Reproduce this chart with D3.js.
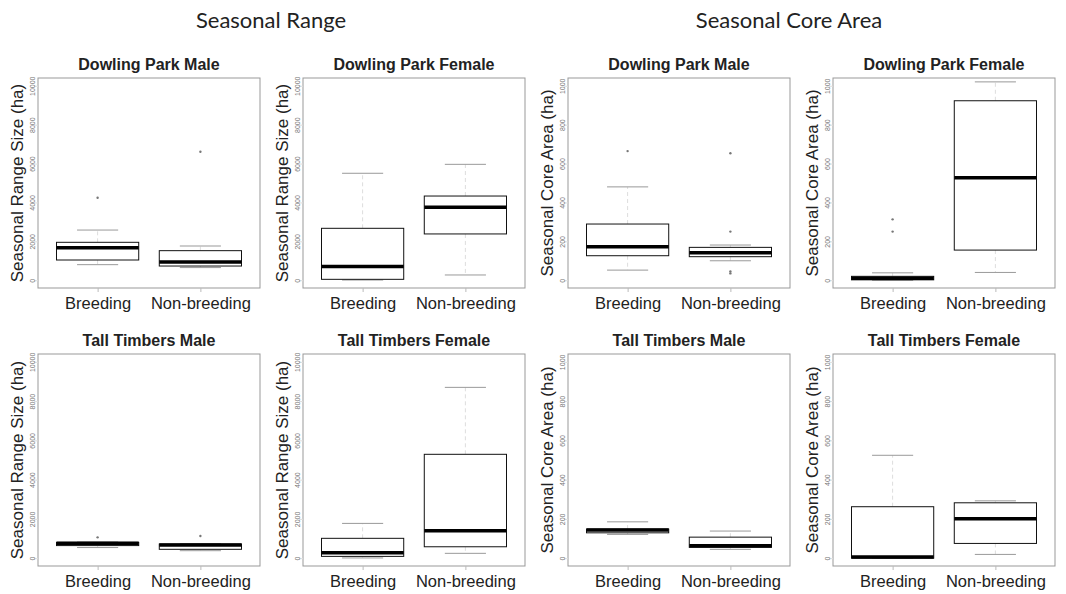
<!DOCTYPE html>
<html>
<head>
<meta charset="utf-8">
<script src="https://cdn.jsdelivr.net/npm/d3@7"></script>
<style>
  html, body { margin: 0; padding: 0; background: #fff; }
  svg { display: block; }
</style>
</head>
<body>
<svg id="chart" width="1066" height="594"></svg>
<script>
// ---------------- DATA ----------------
const sectionTitles = ["Seasonal Range", "Seasonal Core Area"];
const yLabels = ["Seasonal Range Size (ha)", "Seasonal Core Area (ha)"];
const groups = ["Breeding", "Non-breeding"];
const rangeTicks = [0, 2000, 4000, 6000, 8000, 10000];
const coreTicks = [0, 200, 400, 600, 800, 1000];
const panelTitles = [
  "Dowling Park Male", "Dowling Park Female", "Dowling Park Male", "Dowling Park Female",
  "Tall Timbers Male", "Tall Timbers Female", "Tall Timbers Male", "Tall Timbers Female"
];
// box stats per group: [lower whisker, Q1, median, Q3, upper whisker]
const dpMaleRange     = [[800, 1040, 1670, 1950, 2580], [650, 730, 940, 1520, 1760]];
const dpFemaleRange   = [[10, 46, 700, 2670, 5500], [270, 2380, 3750, 4330, 5960]];
const dpMaleCore      = [[52, 126, 172, 289, 480], [100, 121, 141, 169, 181]];
const dpFemaleCore    = [[0, 2, 10, 20, 38], [40, 155, 527, 923, 1020]];
const ttMaleRange     = [[540, 640, 760, 800, 820], [380, 450, 670, 720, 740]];
const ttFemaleRange   = [[10, 90, 280, 1010, 1770], [245, 580, 1400, 5290, 8700]];
const ttMaleCore      = [[121, 129, 143, 148, 185], [45, 55, 63, 107, 138]];
const ttFemaleCore    = [[0, 0, 6, 262, 524], [19, 75, 201, 282, 292]];
// outliers per group
const dpMaleRangeOut   = [[4240], [6610]];
const dpFemaleRangeOut = [[], []];
const dpMaleCoreOut    = [[664], [653, 250, 45, 35]];
const dpFemaleCoreOut  = [[313, 250], []];
const ttMaleRangeOut   = [[1060], [1125]];
const ttFemaleRangeOut = [[], []];
const ttMaleCoreOut    = [[], []];
const ttFemaleCoreOut  = [[], []];

const panelStats = [dpMaleRange, dpFemaleRange, dpMaleCore, dpFemaleCore,
                    ttMaleRange, ttFemaleRange, ttMaleCore, ttFemaleCore];
const panelOut = [dpMaleRangeOut, dpFemaleRangeOut, dpMaleCoreOut, dpFemaleCoreOut,
                  ttMaleRangeOut, ttFemaleRangeOut, ttMaleCoreOut, ttFemaleCoreOut];

// ---------------- LAYOUT ----------------
const svg = d3.select("#chart");
const colOffsets = [0, 265, 530, 795];
const rowTops = [78, 354];
const rowBottoms = [288, 566];
const plotLeft = 38, plotRight = 260;

svg.selectAll("text.section")
  .data(sectionTitles)
  .join("text")
  .attr("class", "section")
  .attr("x", (d, i) => [271, 789][i])
  .attr("y", 28)
  .attr("text-anchor", "middle")
  .attr("font-family", "Lato, 'Open Sans', sans-serif")
  .attr("font-size", 22)
  .attr("fill", "#222")
  .text(d => d);

const font = "'Liberation Sans', Arial, sans-serif";

panelStats.forEach((stats, p) => {
  const col = p % 4, row = Math.floor(p / 4);
  const isCore = col >= 2;
  const off = colOffsets[col];
  const x0 = off + plotLeft, x1 = off + plotRight;
  const yT = rowTops[row], yB = rowBottoms[row];
  const ticks = isCore ? coreTicks : rangeTicks;
  const maxT = ticks[ticks.length - 1];
  const ext = maxT * 0.04;
  const x = d3.scaleLinear().domain([0.42, 2.58]).range([x0, x1]);
  const y = d3.scaleLinear().domain([-ext, maxT + ext]).range([yB, yT]);
  const g = svg.append("g");

  // frame
  g.append("rect")
    .attr("x", x0).attr("y", yT)
    .attr("width", x1 - x0).attr("height", yB - yT)
    .attr("fill", "none").attr("stroke", "#999").attr("stroke-width", 1);

  // y axis (ticks + rotated labels)
  const yAxis = d3.axisLeft(y).tickValues(ticks).tickSize(4).tickFormat(d3.format("d"));
  const ga = g.append("g").attr("transform", `translate(${x0},0)`).call(yAxis);
  ga.select(".domain").remove();
  ga.selectAll(".tick line").attr("stroke", "#ddd");
  ga.selectAll(".tick text")
    .attr("x", null).attr("dy", null)
    .attr("transform", "translate(-3,0) rotate(-90)")
    .attr("text-anchor", "middle")
    .attr("font-family", font)
    .attr("font-size", 7)
    .attr("fill", "#777");

  // x axis
  const xAxis = d3.axisBottom(x).tickValues([1, 2]).tickSize(4).tickFormat((d) => groups[d - 1]);
  const gx = g.append("g").attr("transform", `translate(0,${yB})`).call(xAxis);
  gx.select(".domain").remove();
  gx.selectAll(".tick line").attr("stroke", "#bbb");
  gx.selectAll(".tick text")
    .attr("y", 21).attr("dy", null)
    .attr("font-family", font)
    .attr("font-size", 16.5)
    .attr("fill", "#222");

  // y label
  g.append("text")
    .attr("transform", `translate(${off + 23},${(yT + yB) / 2}) rotate(-90)`)
    .attr("text-anchor", "middle")
    .attr("font-family", font)
    .attr("font-size", 17)
    .attr("fill", "#222")
    .text(yLabels[isCore ? 1 : 0]);

  // panel title
  g.append("text")
    .attr("x", (x0 + x1) / 2).attr("y", yT - 8)
    .attr("text-anchor", "middle")
    .attr("font-family", font)
    .attr("font-weight", "bold")
    .attr("font-size", 16)
    .attr("fill", "#222")
    .text(panelTitles[p]);

  // boxes
  stats.forEach((s, i) => {
    const c = i + 1;
    const [lo, q1, med, q3, hi] = s;
    // whiskers
    g.append("line").attr("x1", x(c)).attr("x2", x(c)).attr("y1", y(q3)).attr("y2", y(hi))
      .attr("stroke", "#ddd").attr("stroke-dasharray", "4,3");
    g.append("line").attr("x1", x(c)).attr("x2", x(c)).attr("y1", y(q1)).attr("y2", y(lo))
      .attr("stroke", "#ddd").attr("stroke-dasharray", "4,3");
    // staples
    [lo, hi].forEach(v => {
      g.append("line").attr("x1", x(c - 0.2)).attr("x2", x(c + 0.2)).attr("y1", y(v)).attr("y2", y(v))
        .attr("stroke", "#999").attr("stroke-width", 1);
    });
    // box
    g.append("rect")
      .attr("x", x(c - 0.4)).attr("y", y(q3))
      .attr("width", x(c + 0.4) - x(c - 0.4))
      .attr("height", Math.max(0, y(q1) - y(q3)))
      .attr("fill", "#fff").attr("stroke", "#111").attr("stroke-width", 1);
    // median
    g.append("line").attr("x1", x(c - 0.4)).attr("x2", x(c + 0.4)).attr("y1", y(med)).attr("y2", y(med))
      .attr("stroke", "#000").attr("stroke-width", 3.5);
    // outliers
    panelOut[p][i].forEach(v => {
      g.append("circle").attr("cx", x(c)).attr("cy", y(v)).attr("r", 1.2).attr("fill", "#777");
    });
  });
});
</script>
</body>
</html>
